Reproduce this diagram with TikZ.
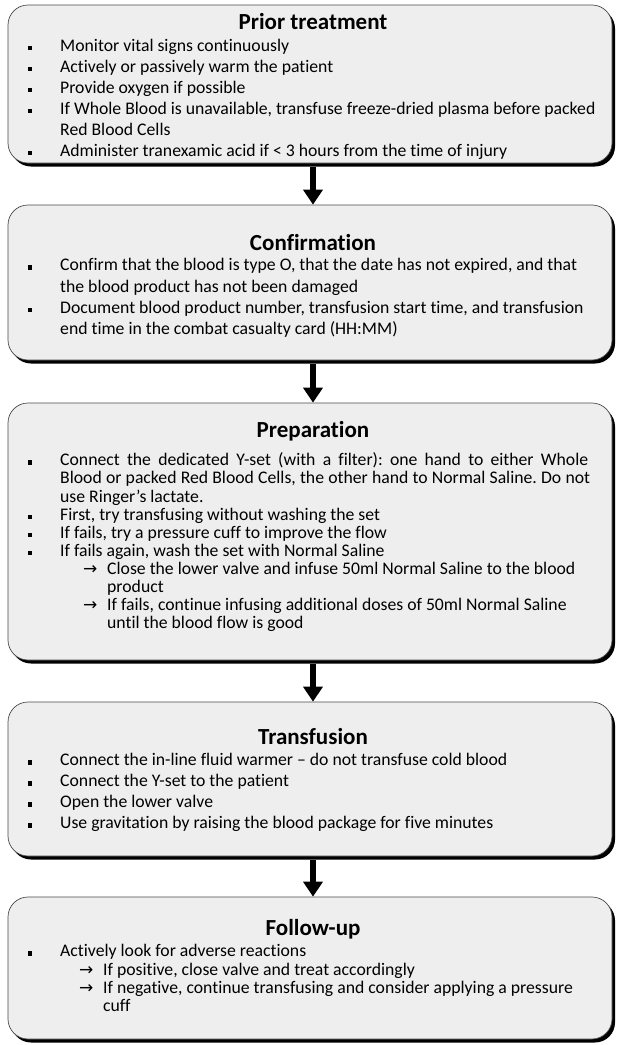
\documentclass[tikz,border=0pt]{standalone}
\usepackage{fontspec}
\setmainfont{Carlito}[Ligatures=NoCommon]
\newfontfamily\symfont{DejaVu Sans}
\usetikzlibrary{arrows.meta,shadows}
\definecolor{boxfill}{HTML}{EEEEEE}
\definecolor{boxline}{HTML}{4A4A4A}
\frenchspacing
\tikzset{
  stage/.style={draw=boxline, line width=0.7pt, fill=boxfill, rounded corners=20pt,
    minimum width=604pt, inner sep=0pt,
    drop shadow={shadow xshift=3pt, shadow yshift=-3.5pt, fill=black, opacity=1}},
  ttl/.style={font=\fontsize{23}{27}\selectfont\bfseries, inner sep=0pt, anchor=mid, yshift=-5pt},
  txt/.style={font=\fontsize{17.7}{21}\selectfont\frenchspacing, inner sep=0pt, anchor=mid west, yshift=-1.5pt},
  bul/.style={fill=black, minimum width=4pt, minimum height=4.4pt, inner sep=0pt, yshift=-1.5pt},
  subarr/.style={font=\symfont\fontsize{17}{20}\selectfont, inner sep=0pt, anchor=mid west, yshift=-1.5pt},
  flow/.style={line width=6pt, -{Triangle[width=19pt,length=15pt]}}
}
\begin{document}
\begin{tikzpicture}[x=1pt,y=-1pt]
\useasboundingbox (0,0) rectangle (617,1045);
% boxes
\node[stage, minimum height=158pt] (b1) at (310,84) {};
\node[stage, minimum height=155pt] (b2) at (310,282.5) {};
\node[stage, minimum height=257pt] (b3) at (310,531.5) {};
\node[stage, minimum height=154pt] (b4) at (310,779) {};
\node[stage, minimum height=142pt] (b5) at (310,968) {};
% arrows
\draw[flow] ([xshift=3pt,yshift=-4pt]b1.south) -- ([xshift=3pt]b2.north);
\draw[flow] ([xshift=3pt,yshift=-4pt]b2.south) -- ([xshift=3pt]b3.north);
\draw[flow] ([xshift=3pt,yshift=-4pt]b3.south) -- ([xshift=3pt]b4.north);
\draw[flow] ([xshift=3pt,yshift=-4pt]b4.south) -- ([xshift=3pt]b5.north);
% box 1
\node[ttl] (t1) at (313,22) {Prior treatment};
\node[bul] (p1) at (30,46.5) {};
\node[txt] (l11) at (60,47.5) {Monitor vital signs continuously};
\node[bul] (p2) at (30,67.5) {};
\node[txt] (l12) at (60,68.5) {Actively or passively warm the patient};
\node[bul] (p3) at (30,88.5) {};
\node[txt] (l13) at (60,89.5) {Provide oxygen if possible};
\node[bul] (p4) at (30,109.5) {};
\node[txt] (l14) at (60,110.5) {If Whole Blood is unavailable, transfuse freeze-dried plasma before packed};
\node[txt] (l15) at (60,131.5) {Red Blood Cells};
\node[bul] (p5) at (30,151.5) {};
\node[txt] (l16) at (60,152.5) {Administer tranexamic acid if < 3 hours from the time of injury};
% box 2
\node[ttl] (t2) at (313,243) {Confirmation};
\node[bul] (q1) at (30,266) {};
\node[txt] (l21) at (60,267) {Confirm that the blood is type O, that the date has not expired, and that};
\node[txt] (l22) at (60,288.3) {the blood product has not been damaged};
\node[bul] (q2) at (30,308.6) {};
\node[txt] (l23) at (60,309.6) {Document blood product number, transfusion start time, and transfusion};
\node[txt] (l24) at (60,331) {end time in the combat casualty card (HH:MM)};
% box 3
\node[ttl] (t3) at (313,430) {Preparation};
\node[bul] (r1) at (30,461) {};
\node[txt] (l31) at (60,462) {\makebox[528pt][s]{Connect the dedicated Y-set (with a filter): one hand to either Whole}};
\node[txt] (l32) at (60,480.1) {\makebox[530pt][s]{Blood or packed Red Blood Cells, the other hand to Normal Saline. Do not}};
\node[txt] (l33) at (60,498.2) {use Ringer’s lactate.};
\node[bul] (r2) at (30,515.3) {};
\node[txt] (l34) at (60,516.3) {First, try transfusing without washing the set};
\node[bul] (r3) at (30,533.4) {};
\node[txt] (l35) at (60,534.4) {If fails, try a pressure cuff to improve the flow};
\node[bul] (r4) at (30,551.5) {};
\node[txt] (l36) at (60,552.5) {If fails again, wash the set with Normal Saline};
\node[subarr] (a31) at (83,570.6) {→};
\node[txt] (l37) at (107,570.6) {Close the lower valve and infuse 50ml Normal Saline to the blood};
\node[txt] (l38) at (107,588.7) {product};
\node[subarr] (a32) at (83,606.8) {→};
\node[txt] (l39) at (107,606.8) {If fails, continue infusing additional doses of 50ml Normal Saline};
\node[txt] (l310) at (107,624.9) {until the blood flow is good};
% box 4
\node[ttl] (t4) at (313,737) {Transfusion};
\node[bul] (s1) at (30,761) {};
\node[txt] (l41) at (60,762) {Connect the in-line fluid warmer – do not transfuse cold blood};
\node[bul] (s2) at (30,782) {};
\node[txt] (l42) at (60,783) {Connect the Y-set to the patient};
\node[bul] (s3) at (30,803) {};
\node[txt] (l43) at (60,804) {Open the lower valve};
\node[bul] (s4) at (30,824) {};
\node[txt] (l44) at (60,825) {Use gravitation by raising the blood package for five minutes};
% box 5
\node[ttl] (t5) at (313,928) {Follow-up};
\node[bul] (u1) at (30,952) {};
\node[txt] (l51) at (60,953) {Actively look for adverse reactions};
\node[subarr] (a51) at (79,971.3) {→};
\node[txt] (l52) at (103,971.3) {If positive, close valve and treat accordingly};
\node[subarr] (a52) at (79,989.6) {→};
\node[txt] (l53) at (103,989.6) {If negative, continue transfusing and consider applying a pressure};
\node[txt] (l54) at (103,1007.9) {cuff};
\end{tikzpicture}
\end{document}
